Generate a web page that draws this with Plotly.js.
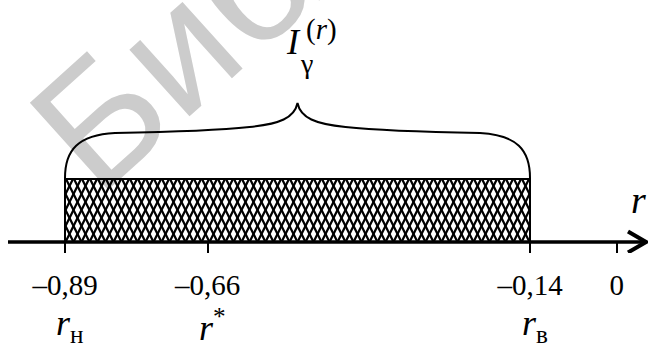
<!DOCTYPE html>
<html><head><meta charset="utf-8">
<script src="https://cdn.plot.ly/plotly-3.0.1.min.js"></script>
<style>
html,body{margin:0;padding:0;background:#fff;}
#wrap{position:relative;width:648px;height:347px;overflow:hidden;}
#bg,#fg{position:absolute;left:0;top:0;width:648px;height:347px;}
</style></head><body>
<div id="wrap"><div id="bg"></div><div id="fg"></div></div>
<script>
// ---- data ----
const axisTickValues = [-0.89, -0.66, -0.14, 0];
const axisTickText = ['\u20130,89', '\u20130,66', '\u20130,14', '0'];
const pointValues = [-0.89, -0.66, -0.14];          // r_н, r*, r_в
const pointLabels = ['<i>r</i><sub>н</sub>', '<i>r</i><sup>*</sup>', '<i>r</i><sub>в</sub>'];
const intervalLow = -0.89;
const intervalHigh = -0.14;
const watermarkText = 'Библиотека БГУИР';

// ---- layout helpers (pixel geometry) ----
const W = 648, H = 347;
const ML = 6, MR = 0, MT = 0, MB = 94;
const PW = W - ML - MR, PH = H - MT - MB;
const pxPerUnit = 620;
const ux = 1 / pxPerUnit;
const xRange = [intervalLow - (65 - ML) * ux, intervalLow - (65 - ML) * ux + PW * ux];
const AX = 242;                     // pixel row of the number line
const yRange = [-11, AX];
const Y = py => AX - py;            // image row -> y units
const YP = py => (PH - py) / PH;    // image row -> paper units
const xAt = px => xRange[0] + (px - ML) * ux;
const serif = 'Liberation Serif, Times New Roman, serif';

const L = intervalLow, R = intervalHigh, M = (L + R) / 2;
const P = (base, dpx, py) => (base + dpx * ux) + ',' + Y(py);
const bracePath =
  'M' + P(L, 0, 178) +
  ' C' + P(L, 0, 150) + ' ' + P(L, 13, 135) + ' ' + P(L, 50, 133) +
  ' C' + P(L, 105, 132) + ' ' + P(M, -85, 131) + ' ' + P(M, -48, 127) +
  ' C' + P(M, -18, 124) + ' ' + P(M, -3, 118) + ' ' + P(M, 0, 103) +
  ' C' + P(M, 3, 118) + ' ' + P(M, 18, 124) + ' ' + P(M, 48, 127) +
  ' C' + P(M, 85, 131) + ' ' + P(R, -105, 132) + ' ' + P(R, -50, 133) +
  ' C' + P(R, -13, 135) + ' ' + P(R, 0, 150) + ' ' + P(R, 0, 178);

const rectH = Y(179);
const xTip = xAt(646);

// cross-hatch lines (decoration clipped to the interval box)
const hx = [], hy = [];
const widthPx = (R - L) * pxPerUnit, slope = 2, period = 8;
[1, -1].forEach(dir => {
  for (let s = -rectH / slope - period; s <= widthPx + rectH / slope + period; s += period) {
    const yAtX = x => (x - s) * slope * dir;
    let y1, y2;
    if (dir === 1) { y1 = Math.max(0, yAtX(0)); y2 = Math.min(rectH, yAtX(widthPx)); }
    else { y1 = Math.max(0, yAtX(widthPx)); y2 = Math.min(rectH, yAtX(0)); }
    if (y2 <= y1) continue;
    hx.push(L + (s + dir * y1 / slope) * ux, L + (s + dir * y2 / slope) * ux, null);
    hy.push(y1, y2, null);
  }
});

const traces = [
  { // hatch
    x: hx, y: hy, mode: 'lines', line: {color: '#000', width: 2.3}, hoverinfo: 'skip'
  },
  { // interval outline
    x: [L, L, R, R], y: [0, rectH, rectH, 0],
    mode: 'lines', line: {color: '#000', width: 2}, hoverinfo: 'skip'
  },
  { // number line
    x: [xAt(8), xTip - 2 * ux], y: [0, 0], mode: 'lines',
    line: {color: '#000', width: 3.5}, hoverinfo: 'skip'
  },
  { // arrow head
    x: [xTip - 18 * ux, xTip, xTip - 18 * ux], y: [10.5, 0, -10.5], mode: 'lines',
    line: {color: '#000', width: 4}, hoverinfo: 'skip'
  }
];

const annotations = [
  {xref: 'x', yref: 'y', x: M, y: Y(42), xshift: -4, text: '<i>I</i>', showarrow: false,
   font: {family: serif, size: 36, color: '#000'}},
  {xref: 'x', yref: 'y', x: M, y: Y(63), xshift: 9, text: 'γ', showarrow: false,
   font: {family: serif, size: 28, color: '#000'}},
  {xref: 'x', yref: 'y', x: M, y: Y(29), xshift: 24, text: '(<i>r</i>)', showarrow: false,
   font: {family: serif, size: 29, color: '#000'}},
  {xref: 'x', yref: 'y', x: xAt(638), y: Y(200), text: '<i>r</i>', showarrow: false,
   font: {family: serif, size: 38, color: '#000'}}
];
pointValues.forEach((v, i) => {
  annotations.push({xref: 'x', yref: 'paper', x: v, y: YP(325), xshift: 5, yanchor: 'middle',
    text: pointLabels[i], showarrow: false, font: {family: serif, size: 36, color: '#000'}});
});

const layout = {
  width: W, height: H,
  margin: {l: ML, r: MR, t: MT, b: MB, pad: 0},
  paper_bgcolor: 'rgba(0,0,0,0)', plot_bgcolor: 'rgba(0,0,0,0)',
  showlegend: false,
  xaxis: {range: xRange, showgrid: false, zeroline: false, showline: false,
    ticks: 'inside', ticklen: 11, tickwidth: 2, tickcolor: '#000',
    tickmode: 'array', tickvals: axisTickValues, ticktext: axisTickText,
    tickfont: {family: serif, size: 29, color: '#000'}, ticklabelstandoff: 12,
    fixedrange: true},
  yaxis: {range: yRange, visible: false, fixedrange: true},
  shapes: [{type: 'path', xref: 'x', yref: 'y', path: bracePath,
    line: {color: '#000', width: 2}}],
  annotations: annotations
};

// watermark (background layer)
const wmSize = 170, wmAngle = 42 * Math.PI / 180;
const ctx = document.createElement('canvas').getContext('2d');
ctx.font = wmSize + 'px "Liberation Sans", Arial, sans-serif';
const tw = ctx.measureText(watermarkText).width;
const O = [98, 199];
const bx = Math.cos(wmAngle), by = -Math.sin(wmAngle);
const uxv = -Math.sin(wmAngle), uyv = -Math.cos(wmAngle);
const cX = O[0] + tw / 2 * bx + 0.35 * wmSize * uxv;
const cY = O[1] + tw / 2 * by + 0.35 * wmSize * uyv;
const wmLayout = {
  width: W, height: H, margin: {l: 0, r: 0, t: 0, b: 0},
  paper_bgcolor: '#fff', plot_bgcolor: '#fff',
  xaxis: {visible: false}, yaxis: {visible: false},
  annotations: [{xref: 'paper', yref: 'paper', x: cX / W, y: 1 - cY / H,
    xanchor: 'center', yanchor: 'middle', text: watermarkText, textangle: -42,
    showarrow: false, font: {family: 'Liberation Sans, Arial, sans-serif', size: wmSize, color: '#cccccc'}}]
};

Plotly.newPlot('bg', [], wmLayout, {staticPlot: true});
Plotly.newPlot('fg', traces, layout, {staticPlot: true});
</script>
</body></html>
